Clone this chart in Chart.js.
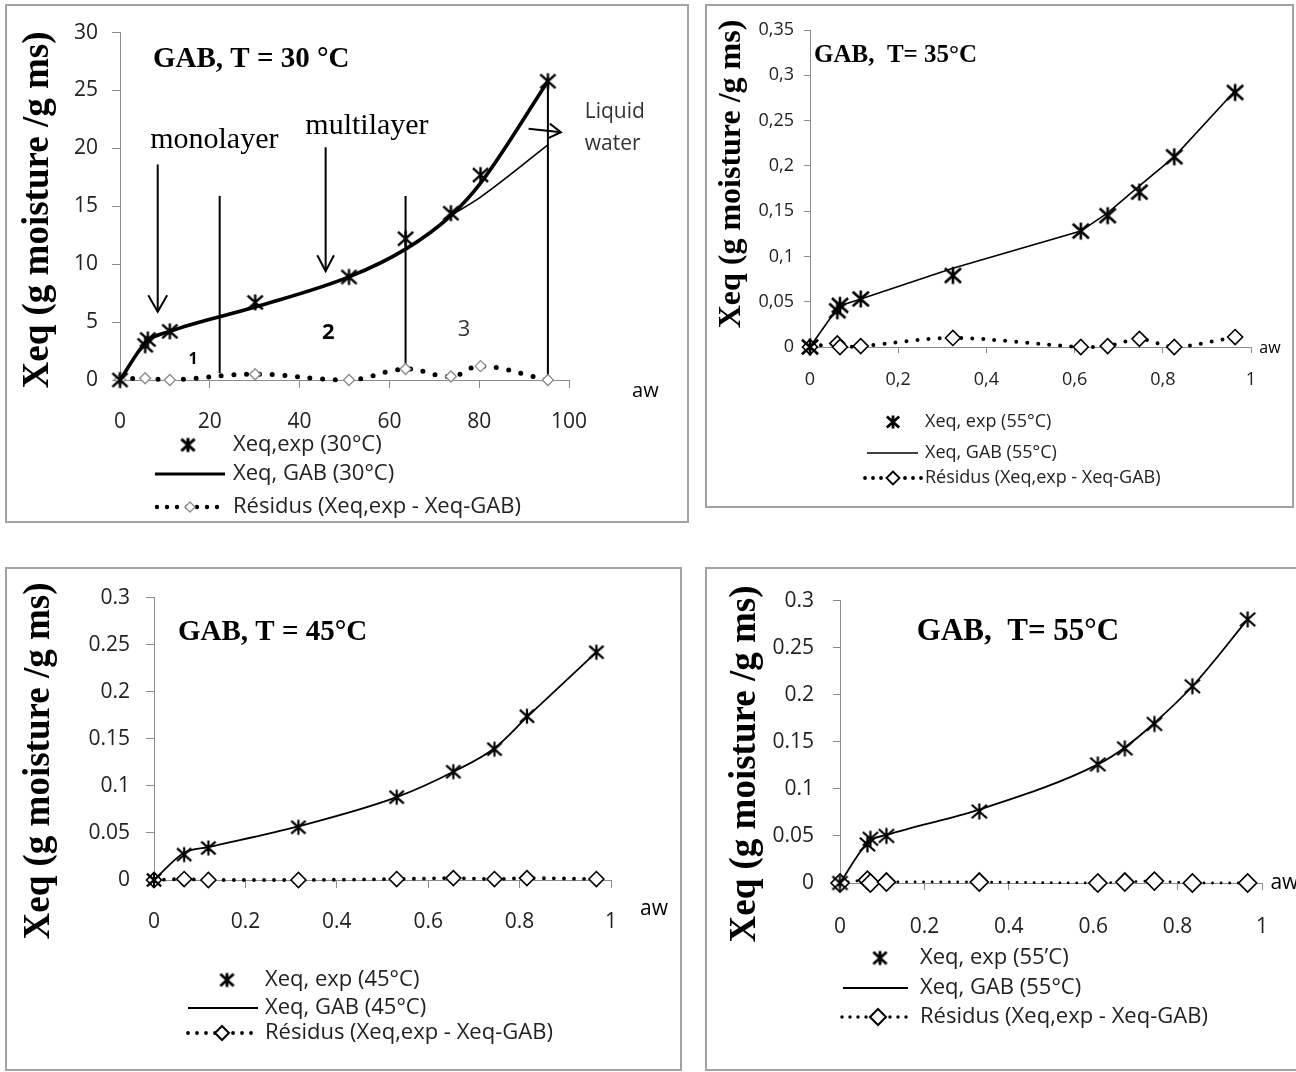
<!DOCTYPE html>
<html>
<head>
<meta charset="utf-8">
<script src="https://cdn.jsdelivr.net/npm/chart.js@4.4.1/dist/chart.umd.min.js"></script>
<style>
body{margin:0;background:#fff;width:1296px;height:1072px;overflow:hidden;position:relative}
.panel{position:absolute;border:2px solid #a3a3a3;box-sizing:border-box;background:#fff}
.panel canvas{position:absolute;left:0;top:0}
</style>
</head>
<body>
<div class="panel" style="left:5px;top:4px;width:684px;height:519px"><canvas id="c30" width="680" height="515"></canvas></div>
<div class="panel" style="left:705px;top:4px;width:589px;height:504px"><canvas id="c35" width="585" height="500"></canvas></div>
<div class="panel" style="left:5px;top:567px;width:677px;height:504px"><canvas id="c45" width="673" height="500"></canvas></div>
<div class="panel" style="left:705px;top:567px;width:600px;height:504px"><canvas id="c55" width="596" height="500"></canvas></div>
<script>
// ---- data ----
// 30 °C (aw in %)
const aw30 = [0, 5.6, 6.2, 11.1, 30.1, 51, 63.6, 73.7, 80.3, 95.3];
const xeqExp30 = [0, 3.0, 3.5, 4.2, 6.7, 8.9, 12.2, 14.4, 17.7, 25.8];
const awGab30 = [0, 5.9, 11.1, 30.1, 51, 63.6, 73.7, 80.3, 95.3];
const xeqGab30 = [0, 3.3, 4.2, 6.3, 8.9, 11.3, 14.2, 17.0, 25.8];
const awGabLow30 = [73.7, 80.3, 95.3];
const xeqGabLow30 = [14.2, 15.8, 20.3];
const awRes30 = [0, 5.6, 11.1, 30.1, 51, 63.6, 73.7, 80.3, 95.3];
const res30 = [0.05, 0.15, 0, 0.5, 0, 0.95, 0.3, 1.2, 0];
// zone boundaries and arrows (30 °C)
const boundaryAw30 = [22.2, 63.6, 95.3];
const boundaryLow30 = [0.6, 1.1, 0.4];
const boundaryHigh30 = [15.9, 15.9, 25.8];
const arrowAw30 = [8.4, 45.8];
const arrowFrom30 = [18.6, 20.1];
const arrowTo30 = [5.9, 9.4];
const liquidArrowAw30 = [91.0, 98.2];
const liquidArrowY30 = [21.7, 21.4];

// 35 °C
const aw35 = [0, 0.062, 0.068, 0.115, 0.324, 0.614, 0.675, 0.747, 0.826, 0.964];
const xeqExp35 = [0, 0.040, 0.046, 0.053, 0.079, 0.128, 0.145, 0.171, 0.210, 0.281];
const awGab35 = [0, 0.065, 0.115, 0.324, 0.614, 0.675, 0.747, 0.826, 0.964];
const xeqGab35 = [0, 0.045, 0.053, 0.087, 0.128, 0.148, 0.178, 0.210, 0.283];
const res35 = [0, 0.004, 0.0, 0.001, 0.010, 0.0, 0.001, 0.009, 0.0, 0.011];

// 45 °C
const aw45 = [0, 0.066, 0.119, 0.316, 0.531, 0.655, 0.745, 0.816, 0.968];
const xeqExp45 = [0, 0.027, 0.034, 0.056, 0.088, 0.115, 0.139, 0.174, 0.242];
const xeqGab45 = [0, 0.029, 0.035, 0.057, 0.088, 0.115, 0.140, 0.173, 0.242];
const res45 = [0, 0.001, 0, 0, 0.001, 0.002, 0.001, 0.002, 0.001];

// 55 °C
const aw55 = [0, 0.065, 0.072, 0.110, 0.330, 0.611, 0.675, 0.745, 0.835, 0.966];
const xeqExp55 = [0, 0.041, 0.047, 0.050, 0.076, 0.126, 0.143, 0.169, 0.209, 0.280];
const awGab55 = [0, 0.068, 0.110, 0.330, 0.611, 0.675, 0.745, 0.835, 0.966];
const xeqGab55 = [0, 0.044, 0.051, 0.078, 0.126, 0.144, 0.170, 0.209, 0.280];
const res55 = [0, 0.003, 0, 0.001, 0.001, 0, 0.001, 0.002, 0, 0];

// ticks
const xTicks30 = [0, 20, 40, 60, 80, 100];
const xLabels30 = ['0', '20', '40', '60', '80', '100'];
const yTicks30 = [0, 5, 10, 15, 20, 25, 30];
const yLabels30 = ['0', '5', '10', '15', '20', '25', '30'];
const awTicks = [0, 0.2, 0.4, 0.6, 0.8, 1];
const awLabelsComma = ['0', '0,2', '0,4', '0,6', '0,8', '1'];
const awLabelsDot = ['0', '0.2', '0.4', '0.6', '0.8', '1'];
const yTicks35 = [0, 0.05, 0.1, 0.15, 0.2, 0.25, 0.3, 0.35];
const yLabels35 = ['0', '0,05', '0,1', '0,15', '0,2', '0,25', '0,3', '0,35'];
const yTicksHi = [0, 0.05, 0.1, 0.15, 0.2, 0.25, 0.3];
const yLabelsHi = ['0', '0.05', '0.1', '0.15', '0.2', '0.25', '0.3'];

// legend texts
const legend30 = ['Xeq,exp (30°C)', 'Xeq, GAB (30°C)', 'Résidus (Xeq,exp - Xeq-GAB)'];
const legend35 = ['Xeq, exp (55°C)', 'Xeq, GAB (55°C)', 'Résidus (Xeq,exp - Xeq-GAB)'];
const legend45 = ['Xeq, exp (45°C)', 'Xeq, GAB (45°C)', 'Résidus (Xeq,exp - Xeq-GAB)'];
const legend55 = ['Xeq, exp (55’C)', 'Xeq, GAB (55°C)', 'Résidus (Xeq,exp - Xeq-GAB)'];

const yTitle = 'Xeq (g moisture /g ms)';
const SANS = "'Open Sans', sans-serif";
const SERIF = "'Liberation Serif', 'DejaVu Serif', serif";
Chart.defaults.font.family = SANS;
Chart.defaults.color = '#222';

// ---- helpers ----
function pts(xs, ys){ return xs.map((x,i)=>({x:x, y:ys[i]})); }

// asterisk marker: X plus a vertical bar
function starImg(r, lw){
  const c = document.createElement('canvas');
  const s = Math.ceil(2*r + lw + 2);
  c.width = s; c.height = s;
  const g = c.getContext('2d');
  g.translate(s/2, s/2);
  g.strokeStyle = '#000'; g.lineWidth = lw;
  g.beginPath();
  g.moveTo(-r*0.95, -r*0.85); g.lineTo(r*0.95, r*0.85);
  g.moveTo(-r*0.95, r*0.85); g.lineTo(r*0.95, -r*0.85);
  g.moveTo(0, -r); g.lineTo(0, r);
  g.stroke();
  return c;
}

function axis(vals, labels, o){
  return {
    type:'linear', min:vals[0], max:vals[vals.length-1],
    afterBuildTicks: s => { s.ticks = vals.map(v=>({value:v})); },
    afterFit: s => { if(o.w) s.width = o.w; if(o.h) s.height = o.h; },
    ticks:{callback:(v,i)=>labels[i], font:{size:o.size}, color:'#222', padding:o.pad, autoSkip:false, maxRotation:0},
    grid:{display:true, drawOnChartArea:false, drawTicks:true, tickLength:o.tick, color:'#8c8c8c', lineWidth:1},
    border:{display:true, color:'#8c8c8c', width:1}
  };
}

function expSet(data, img){
  return {data:data, showLine:false, pointStyle:img, pointRadius:6, clip:false};
}
function gabSet(data, lw, mode){
  return {data:data, showLine:true, pointRadius:0, borderColor:'#000', borderWidth:lw,
    cubicInterpolationMode:mode === 'monotone' ? 'monotone' : 'default', tension:mode === 'straight' ? 0 : 0.4, clip:false};
}
function resSet(data, o){
  return {data:data, showLine:true, borderColor:'#000', borderWidth:o.lw, borderDash:[0, o.gap], borderCapStyle:'round',
    tension:o.tension, pointStyle:'rectRot', pointRadius:o.r, pointBorderColor:o.color, pointBackgroundColor:'#fff',
    pointBorderWidth:o.bw, clip:false};
}
function plainLine(data, lw){
  return {data:data, showLine:true, pointRadius:0, borderColor:'#000', borderWidth:lw, tension:0, clip:false};
}

// texts, arrowheads, y title and the legend
function makeDecor(P){
  return {
    id:'decor',
    afterDatasetsDraw(chart){
      const ctx = chart.ctx, xs = chart.scales.x, ys = chart.scales.y;
      ctx.save();
      (P.arrows || []).forEach(a=>{
        const d = chart.getDatasetMeta(a.ds).data;
        const tip = d[d.length-1], prev = d[d.length-2];
        const ang = Math.atan2(tip.y - prev.y, tip.x - prev.x);
        ctx.strokeStyle = '#000'; ctx.lineWidth = a.lw; ctx.setLineDash([]);
        ctx.beginPath();
        ctx.moveTo(tip.x - a.len*Math.cos(ang - a.spread), tip.y - a.len*Math.sin(ang - a.spread));
        ctx.lineTo(tip.x, tip.y);
        ctx.lineTo(tip.x - a.len*Math.cos(ang + a.spread), tip.y - a.len*Math.sin(ang + a.spread));
        ctx.stroke();
      });
      P.texts.forEach(t=>{
        ctx.font = t.font; ctx.fillStyle = t.color || '#000';
        ctx.textAlign = t.align || 'left'; ctx.textBaseline = 'middle';
        ctx.fillText(t.text, xs.getPixelForValue(t.x), ys.getPixelForValue(t.y));
      });
      // y title
      const T = P.title;
      ctx.save();
      ctx.translate(T.cx, T.cy); ctx.rotate(-Math.PI/2);
      ctx.font = 'bold ' + T.size + 'px ' + SERIF; ctx.fillStyle = '#000';
      ctx.textAlign = 'center'; ctx.textBaseline = 'middle';
      ctx.fillText(yTitle, 0, 0);
      ctx.restore();
      // legend
      const L = P.legend;
      ctx.drawImage(L.star, L.sx - L.star.width/2, L.rows[0] - L.star.height/2);
      ctx.strokeStyle = '#000'; ctx.lineWidth = L.lineW; ctx.setLineDash([]);
      ctx.beginPath(); ctx.moveTo(L.line[0], L.rows[1]); ctx.lineTo(L.line[1], L.rows[1]); ctx.stroke();
      ctx.lineWidth = L.dotW; ctx.lineCap = 'round'; ctx.setLineDash([0, L.dotGap]);
      ctx.beginPath(); ctx.moveTo(L.dots[0], L.rows[2]); ctx.lineTo(L.dots[1], L.rows[2]); ctx.stroke();
      ctx.setLineDash([]);
      const r = L.dr;
      ctx.beginPath();
      ctx.moveTo(L.dx - r, L.rows[2]); ctx.lineTo(L.dx, L.rows[2] - r);
      ctx.lineTo(L.dx + r, L.rows[2]); ctx.lineTo(L.dx, L.rows[2] + r); ctx.closePath();
      ctx.fillStyle = '#fff'; ctx.fill();
      ctx.strokeStyle = L.dColor; ctx.lineWidth = L.dbw; ctx.stroke();
      ctx.font = L.size + 'px ' + SANS; ctx.fillStyle = '#222';
      ctx.textAlign = 'left'; ctx.textBaseline = 'middle';
      L.labels.forEach((s,i)=>ctx.fillText(s, L.tx, L.rows[i]));
      ctx.restore();
    }
  };
}

function buildPanel(id, P){
  const cv = document.getElementById(id);
  const W = cv.width, H = cv.height, A = P.area;
  return new Chart(cv, {
    type:'scatter',
    data:{datasets:P.datasets},
    options:{
      responsive:false, animation:false, events:[],
      layout:{padding:{left:0, top:A.t, right:W - A.r, bottom:0}},
      plugins:{legend:{display:false}, tooltip:{enabled:false}},
      scales:{
        x:axis(P.xTicks, P.xLabels, Object.assign({h:H - A.b}, P.xAxis)),
        y:axis(P.yTicks, P.yLabels, Object.assign({w:A.l}, P.yAxis))
      }
    },
    plugins:[makeDecor(P)]
  });
}

// ---- panel 1 : 30 °C ----
buildPanel('c30', {
  area:{l:113, r:562, t:24, b:374},
  xTicks:xTicks30, xLabels:xLabels30, yTicks:yTicks30, yLabels:yLabels30,
  xAxis:{size:21, pad:21, tick:8}, yAxis:{size:21, pad:14, tick:8},
  datasets:[
    expSet(pts(aw30, xeqExp30), starImg(8, 2.4)),
    gabSet(pts(awGab30, xeqGab30), 3.6, 'monotone'),
    gabSet(pts(awGabLow30, xeqGabLow30), 1.6, 'monotone'),
    resSet(pts(awRes30, res30), {lw:5, gap:12.7, tension:0.4, r:5.5, color:'#8a8a8a', bw:1.3}),
    plainLine(pts([boundaryAw30[0], boundaryAw30[0]], [boundaryLow30[0], boundaryHigh30[0]]), 2),
    plainLine(pts([boundaryAw30[1], boundaryAw30[1]], [boundaryHigh30[1], boundaryLow30[1]]), 2),
    plainLine(pts([boundaryAw30[2], boundaryAw30[2]], [boundaryLow30[2], boundaryHigh30[2]]), 2),
    plainLine(pts([arrowAw30[0], arrowAw30[0]], [arrowFrom30[0], arrowTo30[0]]), 2),
    plainLine(pts([arrowAw30[1], arrowAw30[1]], [arrowFrom30[1], arrowTo30[1]]), 2),
    plainLine(pts(liquidArrowAw30, liquidArrowY30), 2)
  ],
  arrows:[{ds:7, len:19, spread:0.52, lw:2}, {ds:8, len:18, spread:0.48, lw:2}, {ds:9, len:14, spread:0.55, lw:2}],
  texts:[
    {text:'GAB, T = 30 °C', x:7.35, y:27.7, font:'bold 29px ' + SERIF},
    {text:'monolayer', x:21.0, y:20.7, font:'30px ' + SERIF, align:'center'},
    {text:'multilayer', x:55.0, y:21.9, font:'30px ' + SERIF, align:'center'},
    {text:'Liquid', x:103.5, y:23.1, font:'21px ' + SANS, color:'#333'},
    {text:'water', x:103.5, y:20.4, font:'21px ' + SANS, color:'#333'},
    {text:'1', x:16.3, y:1.8, font:'bold 16px ' + SANS, align:'center'},
    {text:'2', x:46.4, y:4.1, font:'bold 22px ' + SANS, align:'center'},
    {text:'3', x:76.6, y:4.3, font:'22px ' + SANS, color:'#333', align:'center'},
    {text:'aw', x:117, y:-1.0, font:'20px ' + SANS, align:'center'}
  ],
  title:{cx:31, cy:204, size:37},
  legend:{labels:legend30, star:starImg(7, 3), sx:181, tx:226, rows:[439, 468, 501], size:22,
    line:[148, 218], lineW:3.2, dots:[150, 216], dotW:4.4, dotGap:10, dx:183, dr:5, dColor:'#8a8a8a', dbw:1.3}
});

// ---- panel 2 : 35 °C ----
buildPanel('c35', {
  area:{l:103, r:544, t:24, b:341},
  xTicks:awTicks, xLabels:awLabelsComma, yTicks:yTicks35, yLabels:yLabels35,
  xAxis:{size:18, pad:16, tick:6}, yAxis:{size:18, pad:10, tick:6},
  datasets:[
    expSet(pts(aw35, xeqExp35), starImg(8.5, 2.6)),
    gabSet(pts(awGab35, xeqGab35), 1.6, 'straight'),
    resSet(pts(aw35, res35), {lw:4, gap:11, tension:0.3, r:7.5, color:'#000', bw:1.6})
  ],
  texts:[
    {text:'GAB,  T= 35°C', x:0.009, y:0.322, font:'bold 25px ' + SERIF},
    {text:'aw', x:1.043, y:-0.002, font:'16px ' + SANS, align:'center'}
  ],
  title:{cx:25, cy:168, size:32},
  legend:{labels:legend35, star:starImg(6.5, 2.8), sx:186, tx:218, rows:[416, 447, 472], size:18,
    line:[160, 211], lineW:1.6, dots:[158, 215], dotW:3.8, dotGap:8, dx:186, dr:6.5, dColor:'#000', dbw:1.8}
});

// ---- panel 3 : 45 °C ----
buildPanel('c45', {
  area:{l:147, r:604, t:16, b:311},
  xTicks:awTicks, xLabels:awLabelsDot, yTicks:yTicksHi, yLabels:yLabelsHi,
  xAxis:{size:21, pad:21, tick:8}, yAxis:{size:21, pad:16, tick:8},
  datasets:[
    expSet(pts(aw45, xeqExp45), starImg(7.5, 2.2)),
    gabSet(pts(aw45, xeqGab45), 1.8, 'monotone'),
    resSet(pts(aw45, res45), {lw:3.8, gap:10, tension:0.3, r:7.5, color:'#000', bw:1.6})
  ],
  texts:[
    {text:'GAB, T = 45°C', x:0.0525, y:0.263, font:'bold 29px ' + SERIF},
    {text:'aw', x:1.094, y:-0.031, font:'21px ' + SANS, align:'center'}
  ],
  title:{cx:32, cy:192, size:37},
  legend:{labels:legend45, star:starImg(7, 2.8), sx:220, tx:258, rows:[411, 439, 464], size:22,
    line:[181, 251], lineW:1.8, dots:[181, 246], dotW:3.8, dotGap:9, dx:215, dr:7, dColor:'#000', dbw:2}
});

// ---- panel 4 : 55 °C ----
buildPanel('c55', {
  area:{l:133, r:555, t:24, b:314},
  xTicks:awTicks, xLabels:awLabelsDot, yTicks:yTicksHi, yLabels:yLabelsHi,
  xAxis:{size:21, pad:24, tick:7}, yAxis:{size:21, pad:19, tick:7},
  datasets:[
    expSet(pts(aw55, xeqExp55), starImg(8, 2.2)),
    gabSet(pts(awGab55, xeqGab55), 1.8, 'monotone'),
    resSet(pts(aw55, res55), {lw:2.8, gap:8.5, tension:0.3, r:9, color:'#000', bw:1.7})
  ],
  texts:[
    {text:'GAB,  T= 55°C', x:0.182, y:0.267, font:'bold 31px ' + SERIF},
    {text:'aw', x:1.02, y:0, font:'21px ' + SANS}
  ],
  title:{cx:38, cy:195, size:37},
  legend:{labels:legend55, star:starImg(7, 2.8), sx:173, tx:213, rows:[389, 419, 448], size:22,
    line:[136, 201], lineW:1.8, dots:[135, 200], dotW:3.4, dotGap:8, dx:171, dr:8, dColor:'#000', dbw:2}
});
</script>
</body>
</html>
